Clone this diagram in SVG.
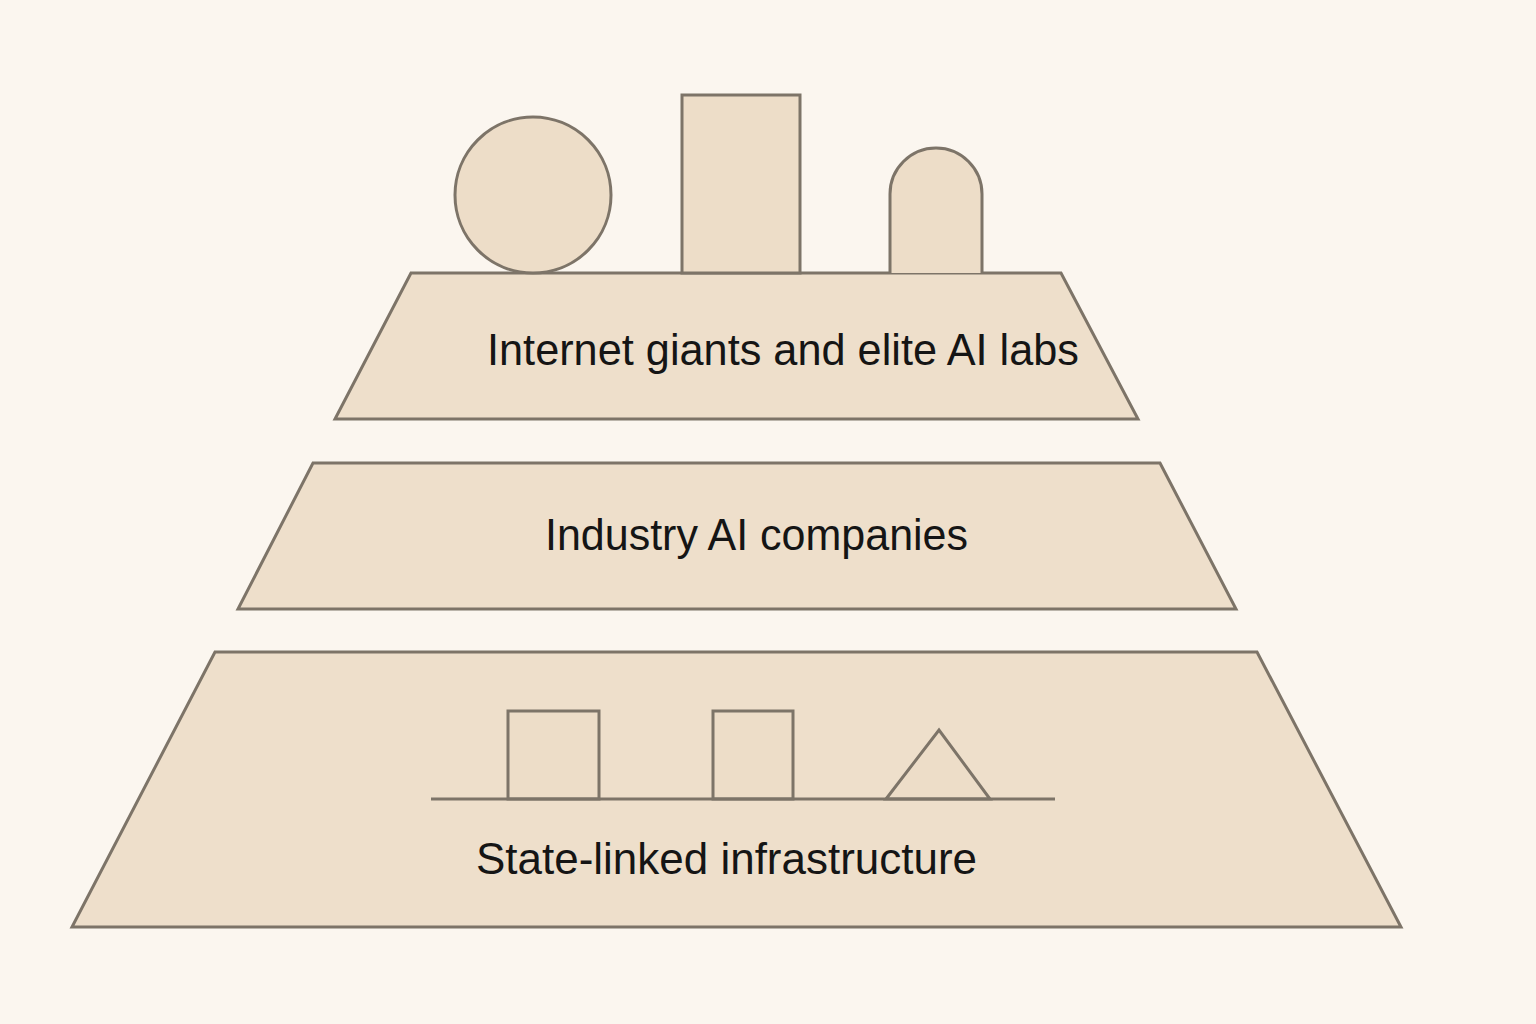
<svg xmlns="http://www.w3.org/2000/svg" width="1536" height="1024" viewBox="0 0 1536 1024">
<style>
.tier{fill:#EEDFCB;stroke:#7D7468;stroke-width:3;stroke-linejoin:miter}
.shape{fill:#EDDDC8;stroke:#7D7468;stroke-width:3}
.line{fill:none;stroke:#7D7468;stroke-width:3}
.lbl{font-family:"Liberation Sans",Arial,sans-serif;font-size:44px;fill:#151515}
</style>
<rect width="1536" height="1024" fill="#FBF6EF"/>
<g id="tier-top">
<polygon class="tier" points="411,273 1061,273 1138,419 335,419"/>
<text class="lbl" x="487" y="365" textLength="592" lengthAdjust="spacingAndGlyphs">Internet giants and elite AI labs</text>
</g>
<g id="top-shapes">
<circle class="shape" cx="533" cy="195" r="78"/>
<rect class="shape" x="682" y="95" width="118" height="178"/>
<path class="shape" d="M890,273 V194 A46,46 0 0 1 982,194 V273"/>
</g>
<g id="tier-middle">
<polygon class="tier" points="313,463 1160,463 1236,609 238,609"/>
<text class="lbl" x="545" y="550" textLength="423" lengthAdjust="spacingAndGlyphs">Industry AI companies</text>
</g>
<g id="tier-bottom">
<polygon class="tier" points="215,652 1257,652 1401,927 72,927"/>
<rect class="shape" x="508" y="711" width="91" height="88"/>
<rect class="shape" x="713" y="711" width="80" height="88"/>
<polygon class="shape" points="886,799 939,730 990,799"/>
<line class="line" x1="431" y1="799" x2="1055" y2="799"/>
<text class="lbl" x="476" y="874" textLength="501" lengthAdjust="spacingAndGlyphs">State-linked infrastructure</text>
</g>
<g id="connectors"/>
</svg>
